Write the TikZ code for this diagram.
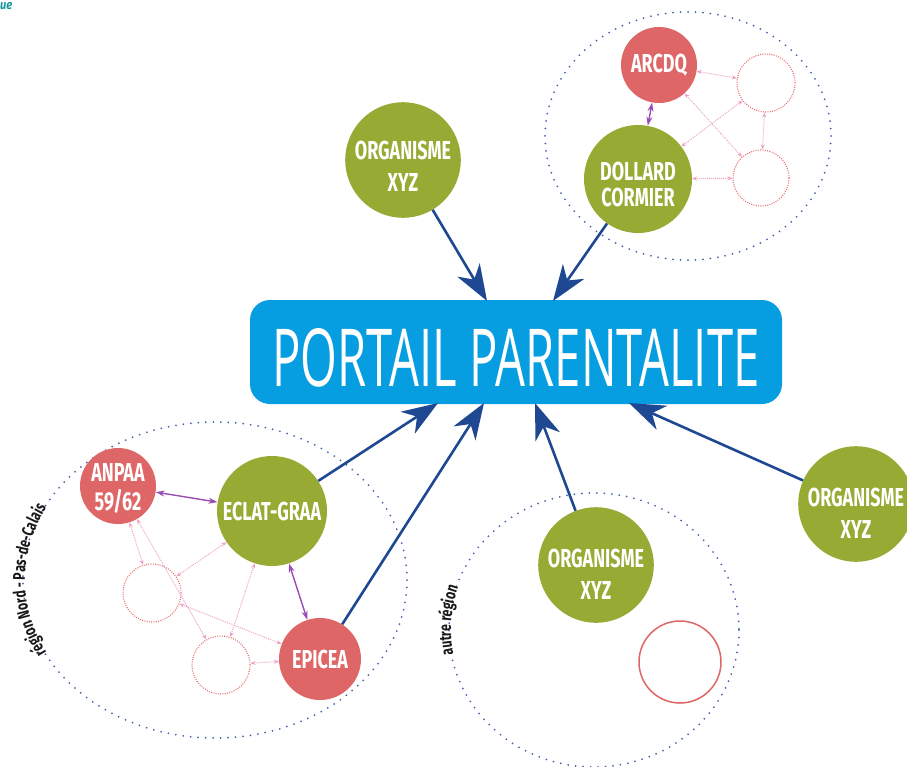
\documentclass[tikz,border=0pt]{standalone}
\usepackage{fontspec}
\usepackage{graphicx}
\usetikzlibrary{arrows.meta,decorations.text,calc}
\newfontfamily\circfont[FakeStretch=0.69]{Fira Sans}
\newfontfamily\labfont[FakeStretch=0.72]{Fira Sans}
\newfontfamily\uefont[FakeStretch=0.85]{Fira Sans}
\newfontfamily\titlefont{Open Sans}
\definecolor{cgreen}{RGB}{151,170,52}
\definecolor{cred}{RGB}{222,102,102}
\definecolor{cbox}{RGB}{6,158,224}
\definecolor{cnavy}{RGB}{30,72,145}
\definecolor{cpurple}{RGB}{155,75,180}
\definecolor{cpink}{RGB}{235,160,195}
\definecolor{cdot}{RGB}{232,110,110}
\definecolor{cbdot}{RGB}{70,100,170}
\definecolor{cteal}{RGB}{20,150,160}
\definecolor{clab}{RGB}{25,25,25}
\newcommand{\ctx}[2]{\raisebox{#1}[\height][\depth]{\begin{tabular}{@{}c@{}}#2\end{tabular}}}
\begin{document}
\begin{tikzpicture}[x=1pt,y=-1pt,
  gnode/.style={circle,fill=cgreen,inner sep=0pt,text=white,font=\circfont\bfseries\fontsize{26}{32}\selectfont},
  rnode/.style={gnode,fill=cred},
  dnode/.style={circle,draw=cdot,dash pattern=on 1pt off 1.3pt,line width=1.1pt,inner sep=0pt},
  bigarrow/.style={draw=cnavy,line width=2.6pt,-{Stealth[length=36pt,width=26pt,inset=11pt]}},
  parrow/.style={draw=cpurple,line width=1.4pt,{Stealth[length=9pt,width=6pt]}-{Stealth[length=9pt,width=6pt]}},
  pkarrow/.style={draw=cpink,line width=0.9pt,dash pattern=on 1pt off 1pt,{Stealth[length=5pt,width=4pt]}-{Stealth[length=5pt,width=4pt]}},
  region/.style={draw=cbdot,line width=2pt,dash pattern=on 0pt off 7.5pt,line cap=round},
  regionlabel/.style={decorate,decoration={text along path,text align=center,raise=-2pt,text color=clab,text={#1}}}
]
\useasboundingbox (0,0) rectangle (907,766);

% region ellipses
\draw[region] (688,136) ellipse [x radius=143, y radius=124];
\draw[region] (215,580) ellipse [x radius=192, y radius=158];
\draw[region] (594,630) ellipse [x radius=145, y radius=137];

% region labels
\path[regionlabel={|\labfont\bfseries\fontsize{17}{20}\selectfont|région Nord - Pas-de-Calais}]
  (215,580) ++(146:192 and 158) arc[start angle=146,end angle=214,x radius=192,y radius=158];
\path[regionlabel={|\labfont\bfseries\fontsize{17}{20}\selectfont|autre région}]
  (594,630) ++(153:145 and 137) arc[start angle=153,end angle=215,x radius=145,y radius=137];

% cut text at the top left
\node[anchor=base west,text=cteal,font=\uefont\bfseries\itshape\fontsize{13}{15}\selectfont,inner sep=0pt] (ue) at (0,9) {ue};

% main box
\node[fill=cbox,rounded corners=20pt,minimum width=532pt,minimum height=104pt,inner sep=0pt,text=white] (portal) at (516,352)
  {\raisebox{-5pt}[58pt][0pt]{\resizebox{487pt}{58pt}{\titlefont PORTAIL PARENTALITE}}};

% nodes
\node[gnode,minimum size=108pt] (orgA) at (403,160) {\ctx{-8.6pt}{ORGANISME\\XYZ}};
\node[gnode,minimum size=108pt,font=\circfont\bfseries\fontsize{26}{25}\selectfont] (dollard) at (638,179) {\ctx{-9pt}{DOLLARD\\CORMIER}};
\node[rnode,minimum size=76pt] (arcdq) at (659,65) {ARCDQ};
\node[dnode,minimum size=58pt] (tA) at (766,83) {};
\node[dnode,minimum size=56pt] (tB) at (761,178) {};

\node[rnode,minimum size=76pt,font=\circfont\bfseries\fontsize{26}{24}\selectfont] (anpaa) at (118,486) {\ctx{-4.7pt}{ANPAA\\59/62}};
\node[gnode,minimum size=110pt] (eclat) at (272,511) {ECLAT-GRAA};
\node[rnode,minimum size=82pt] (epicea) at (320,659) {EPICEA};
\node[dnode,minimum size=58pt] (lC) at (152,593) {};
\node[dnode,minimum size=58pt] (lD) at (221,665) {};

\node[gnode,minimum size=108pt] (orgB) at (596,565) {\ctx{-12pt}{ORGANISME\\XYZ}};
\node[gnode,minimum size=106pt] (orgC) at (856,504) {\ctx{-11.6pt}{ORGANISME\\XYZ}};
\node[circle,draw=cred,line width=1.5pt,minimum size=82pt,inner sep=0pt] (ring) at (680,662) {};

% arrow tips on the box
\coordinate (pA) at (487,301);
\coordinate (pB) at (553,301);
\coordinate (pC) at (438,403);
\coordinate (pD) at (484,403);
\coordinate (pE) at (535,403);
\coordinate (pF) at (629,403);

% small connectors
\draw[pkarrow] (arcdq) -- (tA);
\draw[pkarrow] (arcdq) -- (tB);
\draw[pkarrow] (tA) -- (dollard);
\draw[pkarrow] (tA) -- (tB);
\draw[pkarrow] (dollard) -- (tB);
\draw[pkarrow] (anpaa) -- (lC);
\draw[pkarrow] (anpaa) -- (lD);
\draw[pkarrow] (eclat) -- (lC);
\draw[pkarrow] (eclat) -- (lD);
\draw[pkarrow] (lC) -- (epicea);
\draw[pkarrow] (lD) -- (epicea);
\draw[parrow] (arcdq) -- (dollard);
\draw[parrow] (anpaa) -- (eclat);
\draw[parrow] (eclat) -- (epicea);

% main arrows
\draw[bigarrow] (orgA) -- (pA);
\draw[bigarrow] (dollard) -- (pB);
\draw[bigarrow] (eclat) -- (pC);
\draw[bigarrow] (epicea) -- (pD);
\draw[bigarrow] (orgB) -- (pE);
\draw[bigarrow] (orgC) -- (pF);
\end{tikzpicture}
\end{document}
